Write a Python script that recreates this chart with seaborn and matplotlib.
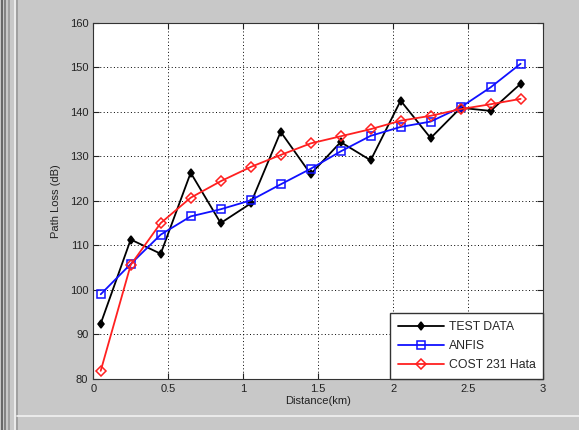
import matplotlib
matplotlib.use('Agg')
import matplotlib.pyplot as plt
from matplotlib.lines import Line2D
import seaborn as sns
import pandas as pd

# distances (km) and path loss (dB)
distance = [0.05, 0.25, 0.45, 0.65, 0.85, 1.05, 1.25, 1.45, 1.65, 1.85, 2.05, 2.25, 2.45, 2.65, 2.85]
test_data = [92.4, 111.3, 108.1, 126.3, 115.0, 119.4, 135.5, 126.0, 133.2, 129.1, 142.5, 134.1, 140.9, 140.2, 146.3]
anfis = [99.0, 105.8, 112.4, 116.5, 118.1, 120.1, 123.7, 127.2, 131.1, 134.6, 136.6, 137.8, 141.0, 145.5, 150.8]
cost231 = [81.8, 105.6, 115.0, 120.7, 124.4, 127.6, 130.3, 132.9, 134.5, 136.1, 138.0, 139.1, 140.6, 141.7, 142.9]

series_names = ['TEST DATA', 'ANFIS', 'COST 231 Hata']
x_ticks = [0, 0.5, 1, 1.5, 2, 2.5, 3]
y_ticks = [80, 90, 100, 110, 120, 130, 140, 150, 160]

df = pd.DataFrame({'Distance': distance * 3,
                   'Loss': test_data + anfis + cost231,
                   'Model': [series_names[0]] * len(distance)
                            + [series_names[1]] * len(distance)
                            + [series_names[2]] * len(distance)})

sns.set_style('white')
plt.rcParams['font.family'] = ['Liberation Sans', 'DejaVu Sans']

fig = plt.figure(figsize=(5.79, 4.30), dpi=100, facecolor='#c8c8c8')
ax = fig.add_axes([0.161, 0.119, 0.777, 0.828])
ax.set_facecolor('white')

styles = {
    'TEST DATA': dict(color='black', marker='d', ms=4.5, mfc='black', mec='black'),
    'ANFIS': dict(color='#1010ff', marker='s', ms=6, mfc='none', mec='#1010ff'),
    'COST 231 Hata': dict(color='#ff2020', marker='D', ms=5, mfc='none', mec='#ff2020'),
}
for name in series_names:
    sub = df[df['Model'] == name]
    st = styles[name]
    sns.lineplot(data=sub, x='Distance', y='Loss', ax=ax, label=name,
                 color=st['color'], marker=st['marker'], markersize=st['ms'],
                 markerfacecolor=st['mfc'], markeredgecolor=st['mec'],
                 markeredgewidth=1.1, linewidth=1.3, sort=False)

ax.set_xlim(0, 3)
ax.set_ylim(80, 160)
ax.set_xticks(x_ticks)
ax.set_xticklabels(['0', '0.5', '1', '1.5', '2', '2.5', '3'])
ax.set_yticks(y_ticks)
ax.grid(True, color='black', linestyle=(0, (1, 2.5)), linewidth=0.7)
ax.tick_params(direction='in', length=4, labelsize=8, colors='#222222',
               top=True, right=True, bottom=True, left=True)
for sp in ax.spines.values():
    sp.set_color('#333333')
    sp.set_linewidth(0.8)
ax.set_xlabel('Distance(km)', fontsize=8, color='#222222', labelpad=2)
ax.set_ylabel('Path Loss (dB)', fontsize=8, color='#222222', labelpad=6)

leg = ax.legend(loc='lower right', fontsize=8.8, frameon=True, fancybox=False,
                borderaxespad=0, handlelength=3.8, labelspacing=0.6,
                borderpad=0.6, handletextpad=0.4)
leg.get_frame().set_edgecolor('#333333')
leg.get_frame().set_linewidth(1.0)
leg.get_frame().set_alpha(1)

# window frame lines on the left and bottom
for xp, c in [(2, '#555555'), (5, '#777777'), (9, '#999999'), (15, '#f2f2f2'), (17, '#999999')]:
    fig.add_artist(Line2D([xp / 579, xp / 579], [0, 1], color=c, lw=1.2))
fig.add_artist(Line2D([17 / 579, 1], [14 / 430, 14 / 430], color='#f2f2f2', lw=1.2))

fig.savefig('out.png', dpi=100, facecolor=fig.get_facecolor())
